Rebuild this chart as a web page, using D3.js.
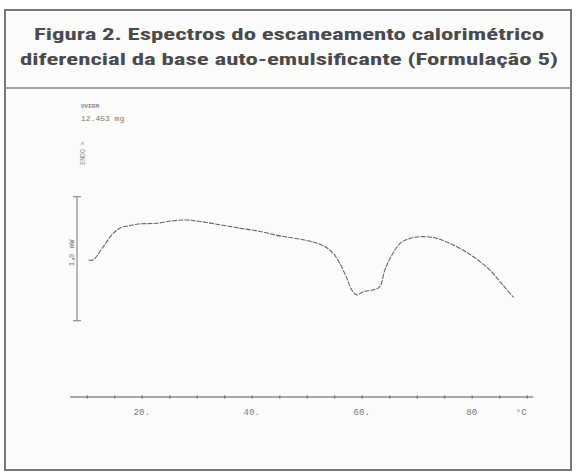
<!DOCTYPE html>
<html><head><meta charset="utf-8">
<script src="https://cdn.jsdelivr.net/npm/d3@7/dist/d3.min.js"></script>
<style>
html,body{margin:0;padding:0;background:#ffffff;}
svg{display:block;}
</style></head>
<body>
<script>
// ---- data ----
const titleLines = ["Figura 2. Espectros do escaneamento calorimétrico",
                    "diferencial da base auto-emulsificante (Formulação 5)"];
const temperature = [10.35,11.2,13.0,14.8,16.4,17.6,19.4,22.7,25.7,28.2,30.6,34.2,37.9,41.5,45.1,48.8,51.5,53.3,54.8,56.0,57.3,58.2,59.1,60.3,62.1,63.3,64.2,65.5,67.0,68.8,71.2,73.6,76.7,80.3,83.3,85.7,87.6];
const heatFlow    = [2.45,2.46,2.98,3.52,3.77,3.82,3.90,3.93,4.03,4.06,4.00,3.87,3.73,3.60,3.42,3.29,3.15,2.99,2.72,2.32,1.71,1.24,1.04,1.17,1.24,1.37,2.04,2.65,3.12,3.32,3.39,3.32,3.05,2.58,2.04,1.43,0.94];
const xTickValues = [10,15,20,25,30,35,40,45,50,55,60,65,70,75,80,85,90];
const xLabelValues = [20,40,60,80];
const xLabelTexts = ["20.","40.","60.","80"];
const xUnit = "°C";
const sampleMass = "12.453 mg";
const headerText = "UVERM";
const endoText = "ENDO >";
const yScaleBar = [0,5];
const yBarTicks = [0,2.5,5];
const yBarLabels = ["mW","1.0"];

const W = 577, H = 474;
const svg = d3.select("body").append("svg").attr("width",W).attr("height",H);

// page background + frame
svg.append("rect").attr("x",0).attr("y",0).attr("width",W).attr("height",H).attr("fill","#ffffff");
svg.append("rect").attr("x",5).attr("y",10).attr("width",566).attr("height",460)
  .attr("fill","#fbfbfa").attr("stroke","#777").attr("stroke-width",2);
svg.append("line").attr("x1",5).attr("x2",571).attr("y1",88).attr("y2",88)
  .attr("stroke","#8a8a8a").attr("stroke-width",1.5);

// title
const tFont = "'Liberation Sans Narrow','Roboto Condensed','Arial Narrow',Roboto,sans-serif";
svg.append("text").attr("x",289).attr("y",40).attr("text-anchor","middle")
  .attr("font-family",tFont).attr("font-weight","bold").attr("font-size",16.5)
  .attr("fill","#4a4a4a").attr("textLength",510).attr("lengthAdjust","spacingAndGlyphs")
  .text(titleLines[0]);
svg.append("text").attr("x",289).attr("y",65).attr("text-anchor","middle")
  .attr("font-family",tFont).attr("font-weight","bold").attr("font-size",16.5)
  .attr("fill","#4a4a4a").attr("textLength",538).attr("lengthAdjust","spacingAndGlyphs")
  .text(titleLines[1]);

// scales
const x = d3.scaleLinear().domain([20,80]).range([141.7,471.7]);
const y = d3.scaleLinear().domain([0,5]).range([320.7,196.7]);

// x axis
const axisY = 397;
svg.append("line").attr("x1",70).attr("x2",533).attr("y1",axisY).attr("y2",axisY)
  .attr("stroke","#8f8f8f").attr("stroke-width",1.3);
const xAxis = d3.axisBottom(x).tickValues(xTickValues).tickSize(3).tickFormat("");
const gx = svg.append("g").attr("transform",`translate(0,${axisY-1.5})`).call(xAxis);
gx.select(".domain").remove();
gx.selectAll(".tick line").attr("stroke","#777").attr("stroke-width",1.4);
svg.selectAll(".xlab").data(xLabelValues).enter().append("text")
  .attr("x",d=>x(d)).attr("y",axisY+18).attr("text-anchor","middle")
  .attr("font-family","'Liberation Mono',monospace").attr("font-size",9)
  .attr("fill","#7a7a7a").text((d,i)=>xLabelTexts[i]);
svg.append("text").attr("x",x(89)).attr("y",axisY+18).attr("text-anchor","middle")
  .attr("font-family","'Liberation Mono',monospace").attr("font-size",9)
  .attr("fill","#7a7a7a").text(xUnit);

// y scale bar
svg.append("line").attr("x1",77).attr("x2",77).attr("y1",y(yScaleBar[1])).attr("y2",y(yScaleBar[0]))
  .attr("stroke","#8a8a8a").attr("stroke-width",1.2);
svg.selectAll(".ybt").data(yBarTicks).enter().append("line")
  .attr("x1",d=> d===2.5?72:73).attr("x2",d=> d===2.5?75:81)
  .attr("y1",d=>y(d)).attr("y2",d=>y(d)).attr("stroke","#8a8a8a").attr("stroke-width",1.2);
svg.append("text").attr("transform",`translate(74,${y(3.1)}) rotate(-90)`).attr("text-anchor","middle")
  .attr("font-family","'Liberation Mono',monospace").attr("font-size",7).attr("fill","#777").text(yBarLabels[0]);
svg.append("text").attr("transform",`translate(74,${y(2.45)}) rotate(-90)`).attr("text-anchor","middle")
  .attr("font-family","'Liberation Mono',monospace").attr("font-size",7).attr("fill","#777").text(yBarLabels[1]);

// header annotations
svg.append("text").attr("x",81).attr("y",108).attr("font-family","'Liberation Mono',monospace")
  .attr("font-size",6).attr("font-weight","bold").attr("fill","#8a8a8a").text(headerText);
svg.append("text").attr("x",81).attr("y",121).attr("font-family","'Liberation Mono',monospace")
  .attr("font-size",8).attr("fill","#777").text(sampleMass);
svg.append("text").attr("transform","translate(85,153) rotate(-90)").attr("text-anchor","middle")
  .attr("font-family","'Liberation Mono',monospace").attr("font-size",6.5).attr("fill","#8a8a8a").text(endoText);

// curve
const line = d3.line().x(d=>x(d[0])).y(d=>y(d[1])).curve(d3.curveCatmullRom.alpha(0.5));
const pts = temperature.map((t,i)=>[t,heatFlow[i]]);
svg.append("path").datum(pts).attr("d",line).attr("fill","none")
  .attr("stroke","#666").attr("stroke-width",1.1).attr("stroke-dasharray","5,1.2");
</script>
</body></html>
